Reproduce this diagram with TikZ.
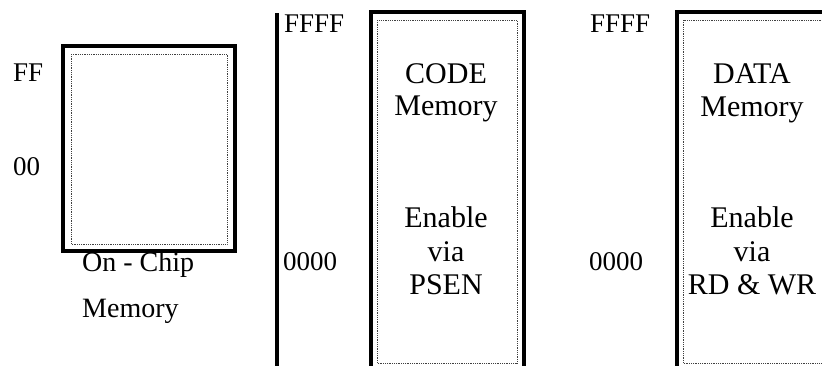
\documentclass[tikz,border=0pt]{standalone}
\usepackage{fontspec}
\setmainfont{Liberation Serif}
\tikzset{%
    obox/.style={line width=3.2pt},
    ibox/.style={line width=0.8pt, black!75, dash pattern=on 0.9pt off 0.9pt},
    adr/.style={anchor=base west, inner sep=0pt, font=\fontsize{27}{32}\selectfont},
    mtx/.style={anchor=base, inner sep=0pt, font=\fontsize{30}{33}\selectfont},
    ctx/.style={anchor=base west, inner sep=0pt, font=\fontsize{28}{32}\selectfont},
}

\begin{document}
\begin{tikzpicture}[x=1pt,y=-1pt]
    \useasboundingbox (0,0) rectangle (822,365);
    \clip (0,0) rectangle (822,365);
    % on-chip memory
    \draw [obox] (63,46) rectangle (235,251);
    \draw [ibox] (71,54) rectangle (227,244);
    \node [adr] (ff) at (13,81) {FF};
    \node [adr] (zz) at (13,175) {00};
    \node [ctx] (chip1) at (82,271) {On - Chip};
    \node [ctx] (chip2) at (82,317) {Memory};
    % code memory
    \coordinate (ltop) at (277,13);
    \coordinate (lbot) at (277,370);
    \draw [obox] (ltop) -- (lbot);
    \node [adr] (cffff) at (284,32) {FFFF};
    \node [adr] (c0000) at (283,270) {0000};
    \draw [obox] (371,12) rectangle (524,375);
    \draw [ibox] (377,20) rectangle (517,363);
    \node [mtx] (code1) at (446,83) {CODE};
    \node [mtx] (code2) at (446,115) {Memory};
    \node [mtx] (code3) at (446,227) {Enable};
    \node [mtx] (code4) at (446,261) {via};
    \node [mtx] (code5) at (446,294) {PSEN};
    % data memory
    \node [adr] (dffff) at (590,32) {FFFF};
    \node [adr] (d0000) at (589,270) {0000};
    \draw [obox] (677,12) rectangle (831,375);
    \draw [ibox] (683,20) rectangle (824,363);
    \node [mtx] (data1) at (752,83) {DATA};
    \node [mtx] (data2) at (752,116) {Memory};
    \node [mtx] (data3) at (752,227) {Enable};
    \node [mtx] (data4) at (752,261) {via};
    \node [mtx] (data5) at (752,294) {RD \& WR};
\end{tikzpicture}
\end{document}
